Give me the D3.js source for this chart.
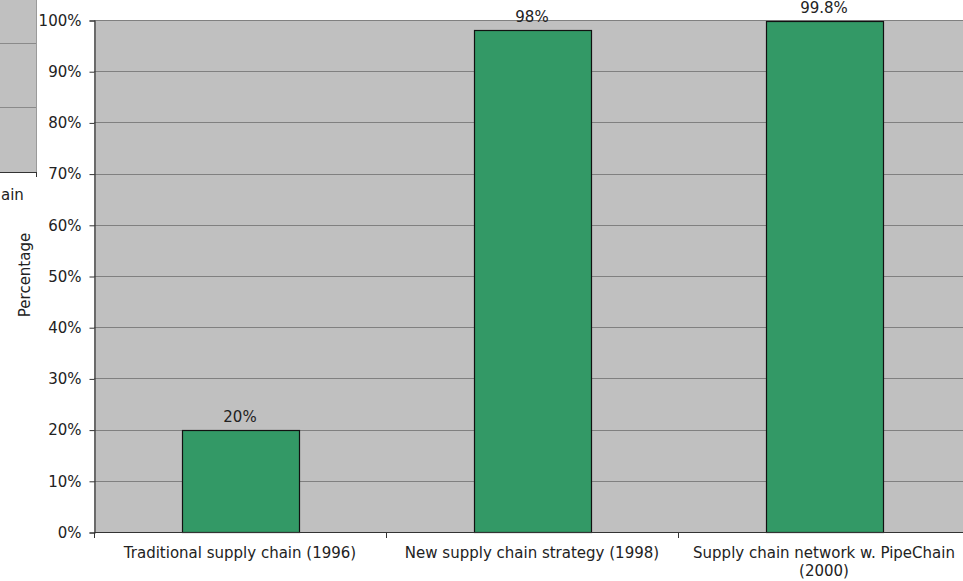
<!DOCTYPE html>
<html>
<head>
<meta charset="utf-8">
<script src="https://cdn.jsdelivr.net/npm/d3@7"></script>
<style>
  html, body { margin: 0; padding: 0; background: #ffffff; }
  svg { display: block; }
  text { font-family: "DejaVu Sans", Verdana, sans-serif; fill: #222; }
</style>
</head>
<body>
<svg id="chart" width="963" height="581"></svg>
<script>
// Share of orders delivered on time, by supply chain setup
const categories = [
  ["Traditional supply chain (1996)"],
  ["New supply chain strategy (1998)"],
  ["Supply chain network w. PipeChain", "(2000)"]
];
const values = [20, 98, 99.8];
const valueLabels = ["20%", "98%", "99.8%"];
const yTicks = [0, 10, 20, 30, 40, 50, 60, 70, 80, 90, 100];
const yTickLabels = yTicks.map(t => t + "%");
const yTitle = "Percentage";

// neighbouring panel partially visible at the top-left edge
const sideGrid = [43, 107];
const sideLabel = "ain";

const svg = d3.select("#chart");
const W = 963, H = 581;
const FS = 15;
const plot = { left: 94, top: 20, right: 970, bottom: 532 };

// partial neighbouring panel
const side = svg.append("g");
side.append("rect").attr("x", -2).attr("y", -2).attr("width", 39).attr("height", 174)
  .attr("fill", "#c0c0c0");
side.selectAll("line.g").data(sideGrid).enter().append("line")
  .attr("x1", 0).attr("x2", 37).attr("y1", d => d + 0.5).attr("y2", d => d + 0.5)
  .attr("stroke", "#8a8a8a").attr("stroke-width", 1);
side.append("line").attr("x1", 36.5).attr("x2", 36.5).attr("y1", 0).attr("y2", 172)
  .attr("stroke", "#9a9a9a").attr("stroke-width", 1);
side.append("line").attr("x1", 0).attr("x2", 37).attr("y1", 172.5).attr("y2", 172.5)
  .attr("stroke", "#333").attr("stroke-width", 1);
side.append("line").attr("x1", 36.5).attr("x2", 36.5).attr("y1", 172).attr("y2", 177)
  .attr("stroke", "#333").attr("stroke-width", 1);
side.append("text").attr("x", 1).attr("y", 200).attr("text-anchor", "start")
  .attr("font-size", FS).text(sideLabel);

const x = d3.scaleBand()
  .domain(d3.range(categories.length))
  .range([plot.left, plot.right])
  .paddingInner(0.6)
  .paddingOuter(0.3);

const y = d3.scaleLinear().domain([0, 100]).range([plot.bottom, plot.top]);

// plot background
svg.append("rect")
  .attr("x", plot.left).attr("y", plot.top)
  .attr("width", plot.right - plot.left).attr("height", plot.bottom - plot.top)
  .attr("fill", "#c0c0c0");

// gridlines
svg.append("g").selectAll("line").data(yTicks.filter(t => t > 0)).enter().append("line")
  .attr("x1", plot.left).attr("x2", plot.right)
  .attr("y1", d => Math.round(y(d)) + 0.5).attr("y2", d => Math.round(y(d)) + 0.5)
  .attr("stroke", "#808080").attr("stroke-width", 1);

// bars
svg.append("g").selectAll("rect").data(values).enter().append("rect")
  .attr("x", (d, i) => Math.round(x(i)) + 0.5)
  .attr("y", d => Math.round(y(d)) + 0.5)
  .attr("width", Math.round(x.bandwidth()))
  .attr("height", d => Math.round(y(0)) - Math.round(y(d)))
  .attr("fill", "#339966")
  .attr("stroke", "#111").attr("stroke-width", 1.2);

// value labels
svg.append("g").selectAll("text").data(values).enter().append("text")
  .attr("x", (d, i) => x(i) + x.bandwidth() / 2)
  .attr("y", d => y(d) - 8)
  .attr("text-anchor", "middle")
  .attr("font-size", FS)
  .text((d, i) => valueLabels[i]);

// y axis
const yAxis = d3.axisLeft(y).tickValues(yTicks).tickFormat((d, i) => yTickLabels[i])
  .tickSize(5).tickPadding(8);
const gy = svg.append("g").attr("transform", `translate(${plot.left + 0.5},0.5)`).call(yAxis);
gy.select(".domain").attr("stroke", "#333").attr("stroke-width", 1.2);
gy.selectAll(".tick line").attr("stroke", "#333");
gy.selectAll(".tick text").attr("font-size", FS)
  .attr("font-family", "'DejaVu Sans', Verdana, sans-serif").attr("fill", "#222");

// x axis with category boundary ticks
const xAxisG = svg.append("g");
xAxisG.append("line")
  .attr("x1", plot.left).attr("x2", W)
  .attr("y1", plot.bottom + 0.5).attr("y2", plot.bottom + 0.5)
  .attr("stroke", "#333").attr("stroke-width", 1.2);
const boundaries = d3.range(categories.length + 1).map(i => plot.left + i * x.step());
xAxisG.selectAll("line.t").data(boundaries).enter().append("line")
  .attr("x1", d => Math.round(d) + 0.5).attr("x2", d => Math.round(d) + 0.5)
  .attr("y1", plot.bottom).attr("y2", plot.bottom + 6)
  .attr("stroke", "#333");

const catText = xAxisG.selectAll("text.c").data(categories).enter().append("text")
  .attr("x", (d, i) => x(i) + x.bandwidth() / 2)
  .attr("y", plot.bottom + 26)
  .attr("text-anchor", "middle")
  .attr("font-size", FS);
catText.selectAll("tspan").data(d => d).enter().append("tspan")
  .attr("x", function () { return d3.select(this.parentNode).attr("x"); })
  .attr("dy", (d, j) => j === 0 ? 0 : 18)
  .text(d => d);

// y axis title
svg.append("text")
  .attr("transform", `translate(30,275) rotate(-90)`)
  .attr("text-anchor", "middle")
  .attr("font-size", FS)
  .text(yTitle);
</script>
</body>
</html>
